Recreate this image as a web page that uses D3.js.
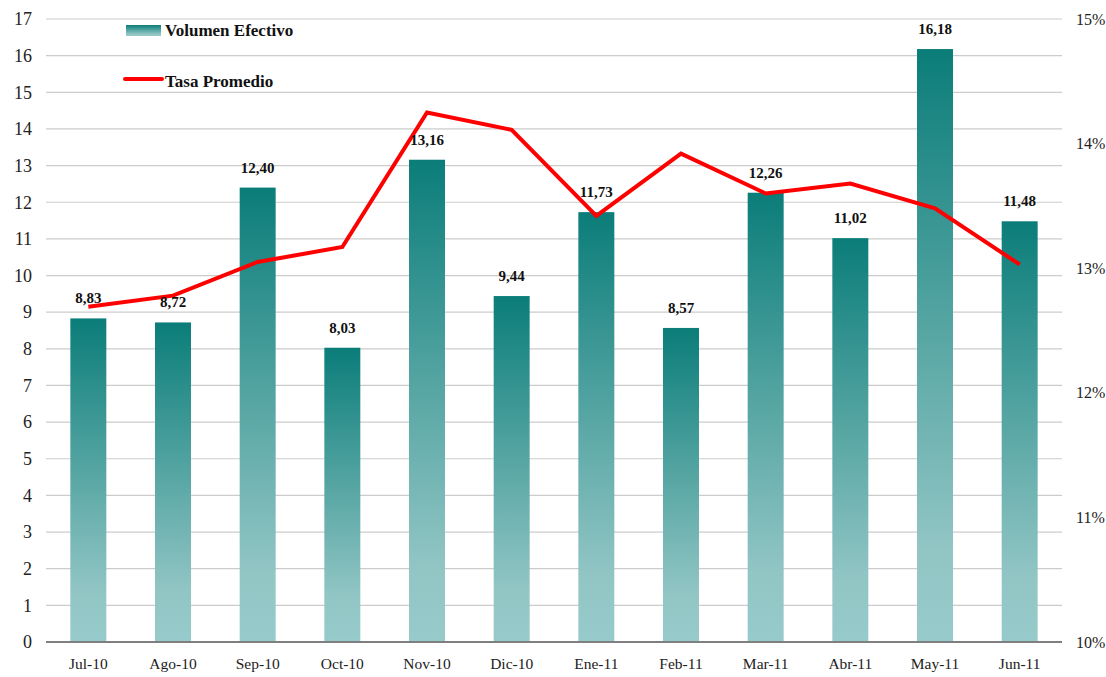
<!DOCTYPE html>
<html>
<head>
<meta charset="utf-8">
<script src="https://cdn.jsdelivr.net/npm/d3@7"></script>
<style>
  body { margin: 0; background: #fff; }
  svg { display: block; font-family: "Liberation Serif", "DejaVu Serif", serif; }
</style>
</head>
<body>
<div id="chart"></div>
<script>
const months = ["Jul-10", "Ago-10", "Sep-10", "Oct-10", "Nov-10", "Dic-10",
  "Ene-11", "Feb-11", "Mar-11", "Abr-11", "May-11", "Jun-11"];
const volumen = [8.83, 8.72, 12.40, 8.03, 13.16, 9.44, 11.73, 8.57, 12.26, 11.02, 16.18, 11.48];
const tasa = [12.69, 12.78, 13.05, 13.17, 14.25, 14.11, 13.42, 13.92, 13.60, 13.68, 13.48, 13.03];
const leftTicks = d3.range(0, 18);
const rightTicks = [10, 11, 12, 13, 14, 15];

const width = 1106, height = 677;
const margin = { top: 19, left: 46, right: 44, bottom: 35 };
const innerW = width - margin.left - margin.right;
const innerH = height - margin.top - margin.bottom;

const x = d3.scaleBand().domain(months).range([0, innerW]).paddingInner(0.575).paddingOuter(0.2875);
const y = d3.scaleLinear().domain([0, 17]).range([innerH, 0]);
const y2 = d3.scaleLinear().domain([10, 15]).range([innerH, 0]);

const svg = d3.select("#chart").append("svg")
  .attr("width", width).attr("height", height);

const grad = svg.append("defs").append("linearGradient")
  .attr("id", "barGrad").attr("x1", 0).attr("y1", 0).attr("x2", 0).attr("y2", 1);
grad.append("stop").attr("offset", 0).attr("stop-color", "#0b7d79");
grad.append("stop").attr("offset", 0.85).attr("stop-color", "#92c6c5");
grad.append("stop").attr("offset", 1).attr("stop-color", "#97caca");

const g = svg.append("g").attr("transform", `translate(${margin.left},${margin.top})`);

// gridlines
g.append("g").selectAll("line").data(leftTicks.slice(1)).join("line")
  .attr("x1", 0).attr("x2", innerW)
  .attr("y1", d => y(d)).attr("y2", d => y(d))
  .attr("stroke", "#cccccc").attr("stroke-width", 1.2);

// left axis
g.append("g")
  .call(d3.axisLeft(y).tickValues(leftTicks).tickSize(0).tickPadding(14))
  .call(a => a.select(".domain").remove())
  .selectAll("text").attr("font-size", 18).attr("fill", "#222")
  .attr("font-family", "Liberation Serif, serif");

// right axis
g.append("g").attr("transform", `translate(${innerW},0)`)
  .call(d3.axisRight(y2).tickValues(rightTicks).tickSize(0).tickPadding(14).tickFormat(d => d + "%"))
  .call(a => a.select(".domain").remove())
  .selectAll("text").attr("font-size", 16).attr("fill", "#222")
  .attr("font-family", "Liberation Serif, serif");

// bars
g.append("g").selectAll("rect").data(volumen).join("rect")
  .attr("x", (d, i) => x(months[i]))
  .attr("y", d => y(d))
  .attr("width", x.bandwidth())
  .attr("height", d => innerH - y(d))
  .attr("fill", "url(#barGrad)");

// baseline
g.append("line").attr("x1", 0).attr("x2", innerW)
  .attr("y1", innerH).attr("y2", innerH)
  .attr("stroke", "#7f7f7f").attr("stroke-width", 2);

// bottom axis
g.append("g").attr("transform", `translate(0,${innerH})`)
  .call(d3.axisBottom(x).tickSize(0).tickPadding(16))
  .call(a => a.select(".domain").remove())
  .selectAll("text").attr("font-size", 15.5).attr("fill", "#222")
  .attr("font-family", "Liberation Serif, serif");

// line
const line = d3.line().x((d, i) => x(months[i]) + x.bandwidth() / 2).y(d => y2(d));
g.append("path").attr("d", line(tasa))
  .attr("fill", "none").attr("stroke", "#ff0000").attr("stroke-width", 4)
  .attr("stroke-linejoin", "miter");

// value labels
g.append("g").selectAll("text").data(volumen).join("text")
  .attr("x", (d, i) => x(months[i]) + x.bandwidth() / 2)
  .attr("y", d => y(d) - 15)
  .attr("text-anchor", "middle")
  .attr("font-size", 15).attr("font-weight", "bold").attr("fill", "#111")
  .text(d => d.toFixed(2).replace(".", ","));

// legend
const leg = svg.append("g");
leg.append("rect").attr("x", 126).attr("y", 25).attr("width", 35).attr("height", 11)
  .attr("fill", "url(#barGrad)");
leg.append("text").attr("x", 165).attr("y", 36).text("Volumen Efectivo")
  .attr("font-size", 17).attr("font-weight", "bold").attr("fill", "#111");
leg.append("line").attr("x1", 125).attr("x2", 162).attr("y1", 79).attr("y2", 79)
  .attr("stroke", "#ff0000").attr("stroke-width", 4).attr("stroke-linecap", "round");
leg.append("text").attr("x", 165).attr("y", 87).text("Tasa Promedio")
  .attr("font-size", 17).attr("font-weight", "bold").attr("fill", "#111");
</script>
</body>
</html>
